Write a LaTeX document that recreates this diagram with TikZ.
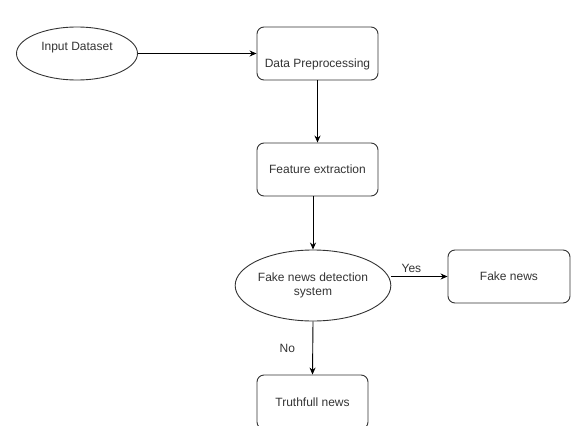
\documentclass[tikz,border=0pt]{standalone}
\usepackage{fontspec}
\setmainfont{Liberation Sans}
\usepackage{tikz}
\usetikzlibrary{shapes,arrows,arrows.meta,positioning,calc}
\definecolor{txtgray}{RGB}{51,51,51}

\begin{document}
\begin{tikzpicture}[x=1pt, y=-1pt, font=\fontsize{12}{14}\selectfont]
\tikzstyle{b} = [rectangle, draw=txtgray, line width=0.9pt, text=txtgray, minimum width=121pt, minimum height=53pt, rounded corners=7pt, align=center]
\tikzstyle{e} = [ellipse, draw=txtgray, line width=0.9pt, text=txtgray, minimum width=121pt, minimum height=53pt, inner sep=0pt, align=center]
\tikzstyle{a} = [-{Stealth[length=7pt,width=6pt]}, line width=0.9pt]
\useasboundingbox (0,0) rectangle (571,426);
\node [e] (input) at (77,53.5) {\raisebox{2.7pt}[0pt][0pt]{Input Dataset}};
\node [b] (prep) at (317.5,53.5) {\raisebox{-14pt}[0pt][0pt]{Data Preprocessing}};
\node [b] (feat) at (317.5,169.5) {Feature extraction};
\node [e, minimum height=71pt] (detect) at (313,285.5) {Fake news detection\\system};
\node [b, minimum width=122pt] (fake) at (509,276.5) {Fake news};
\node [b, minimum width=111pt, minimum height=54pt] (truth) at (312.5,402) {Truthfull news};
\draw [a] (input) -- (prep);
\draw [a] (prep.south) -- (feat.north);
\draw [a] (detect.north |- feat.south) -- (detect.north);
\draw [a] (detect.east |- fake.west) -- node [above, text=txtgray, xshift=-8pt] {Yes} (fake.west);
\draw [a] (detect.south) -- node [left, text=txtgray, xshift=-14pt] {No} (truth.north);
\end{tikzpicture}
\end{document}
